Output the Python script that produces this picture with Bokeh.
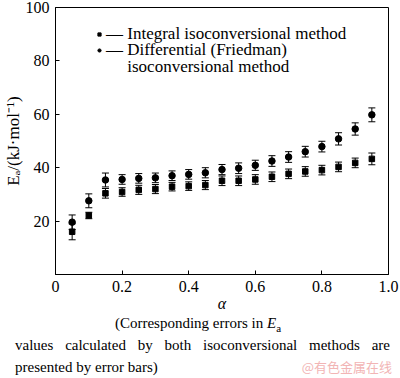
from bokeh.plotting import figure
from bokeh.layouts import column
from bokeh.models import (ColumnDataSource, Whisker, TeeHead, FixedTicker, Legend,
                          LegendItem, Range1d, Div)
from bokeh.embed import file_html
from bokeh.resources import INLINE

# ---- data ----
alpha = [0.05, 0.10, 0.15, 0.20, 0.25, 0.30, 0.35, 0.40, 0.45, 0.50,
         0.55, 0.60, 0.65, 0.70, 0.75, 0.80, 0.85, 0.90, 0.95]
ea_integral = [16.0, 22.1, 30.4, 30.9, 31.7, 32.0, 32.9, 33.1, 33.5, 35.1,
               35.1, 35.6, 36.6, 37.7, 38.6, 39.1, 40.3, 41.8, 43.3]
err_integral = [3.0, 1.2, 1.8, 1.6, 1.7, 1.7, 1.6, 1.6, 1.7, 1.8,
                1.8, 1.8, 1.8, 1.8, 1.8, 1.8, 1.8, 1.8, 2.2]
ea_diff = [19.6, 27.6, 35.4, 35.6, 36.0, 36.2, 37.0, 37.5, 38.1, 39.3,
           39.8, 40.9, 42.5, 44.0, 46.0, 47.9, 50.8, 54.5, 59.8]
err_diff = [2.7, 2.6, 2.6, 1.8, 1.8, 1.8, 1.8, 1.8, 1.9, 1.9,
            2.0, 1.9, 2.0, 2.0, 2.0, 2.0, 2.3, 2.3, 2.6]
x_ticks = [0.0, 0.2, 0.4, 0.6, 0.8, 1.0]
x_tick_labels = ["0", "0.2", "0.4", "0.6", "0.8", "1.0"]
y_ticks = [20, 40, 60, 80, 100]
legend_labels = ["Integral isoconversional method",
                 "Differential (Friedman)",
                 "isoconversional method"]

FONT = "Liberation Serif"

src_int = ColumnDataSource(dict(
    x=alpha, y=ea_integral,
    lo=[v - e for v, e in zip(ea_integral, err_integral)],
    hi=[v + e for v, e in zip(ea_integral, err_integral)]))
src_diff = ColumnDataSource(dict(
    x=alpha, y=ea_diff,
    lo=[v - e for v, e in zip(ea_diff, err_diff)],
    hi=[v + e for v, e in zip(ea_diff, err_diff)]))

p = figure(width=400, height=314, x_range=Range1d(0, 1.0), y_range=Range1d(0, 100),
           output_backend="svg", toolbar_location=None,
           min_border_top=7, min_border_right=12, min_border_left=53)
p.grid.visible = False
p.outline_line_color = "black"
p.outline_line_width = 1
p.background_fill_color = "white"
p.border_fill_color = "white"

for ax in (p.xaxis[0], p.yaxis[0]):
    ax.major_tick_in = 4
    ax.major_tick_out = 0
    ax.minor_tick_line_color = None
    ax.axis_line_color = "black"
    ax.major_tick_line_color = "black"
    ax.major_label_text_font = FONT
    ax.major_label_text_font_size = "16px"
    ax.major_label_text_color = "black"
    ax.axis_label_text_font = FONT
    ax.axis_label_text_color = "black"

p.xaxis.ticker = FixedTicker(ticks=x_ticks)
p.xaxis.major_label_overrides = {t: l for t, l in zip(x_ticks, x_tick_labels)}
p.xaxis.major_label_standoff = 6
p.yaxis.major_label_standoff = 6
p.yaxis.ticker = FixedTicker(ticks=y_ticks)
p.xaxis.axis_label = "α"
p.xaxis.axis_label_text_font_size = "16px"
p.xaxis.axis_label_text_font_style = "italic"
p.xaxis.axis_label_standoff = 0
p.yaxis.axis_label = "Eₐ/(kJ·mol⁻¹)"
p.yaxis.axis_label_text_font_size = "17px"
p.yaxis.axis_label_text_font_style = "normal"
p.yaxis.axis_label_standoff = 0

# error bars
for src in (src_int, src_diff):
    w = Whisker(base="x", lower="lo", upper="hi", source=src, line_color="black",
                line_width=1,
                lower_head=TeeHead(size=7, line_color="black", line_width=1),
                upper_head=TeeHead(size=7, line_color="black", line_width=1))
    p.add_layout(w)

r_int = p.scatter("x", "y", source=src_int, marker="square", size=5.5,
                  fill_color="black", line_color="black")
r_diff = p.scatter("x", "y", source=src_diff, marker="circle", size=6.5,
                   fill_color="black", line_color="black")
r_dummy = p.scatter("x", "y", source=src_diff, marker="circle", size=1,
                    fill_alpha=0, line_alpha=0)

nb = "\u00a0"
legend_rows = [
    ("—" + nb + legend_labels[0], r_int, 230),
    ("—" + nb + legend_labels[1], r_diff, 214),
    (nb * 5 + legend_labels[2], r_dummy, 197),
]
for text, rend, ypos in legend_rows:
    lg = Legend(items=[LegendItem(label=text, renderers=[rend])],
                location=(40, ypos), orientation="vertical")
    lg.label_text_font = FONT
    lg.label_text_font_size = "17px"
    lg.label_text_color = "black"
    lg.label_height = 16
    lg.glyph_height = 16
    lg.glyph_width = 8
    lg.label_standoff = 3
    lg.spacing = 0
    lg.padding = 0
    lg.margin = 0
    lg.border_line_alpha = 0
    lg.background_fill_alpha = 0
    p.add_layout(lg)

caption_html = (
    '<div style="font-family:\'Liberation Serif\';font-size:15px;line-height:22px;color:black;width:400px;">'
    '<div style="text-align:center;padding-right:4px;">(Corresponding errors in <i>E</i><sub style="font-size:11px;line-height:0;">a</sub></div>'
    '<div style="text-align:justify;text-align-last:justify;padding-left:15px;padding-right:10px;">'
    'values calculated by both isoconversional methods are</div>'
    '<div style="display:flex;justify-content:space-between;padding-left:15px;padding-right:8px;">'
    '<span>presented by error bars)</span>'
    '<span style="font-family:\'Noto Sans CJK SC\';color:#f2b5b5;font-size:13px;">@有色金属在线</span></div>'
    '</div>'
)
caption = Div(text=caption_html, width=400, height=66, margin=(-2, 0, 0, 0))

layout = column(p, caption, spacing=0)
open("out.html", "w").write(file_html(layout, INLINE))
